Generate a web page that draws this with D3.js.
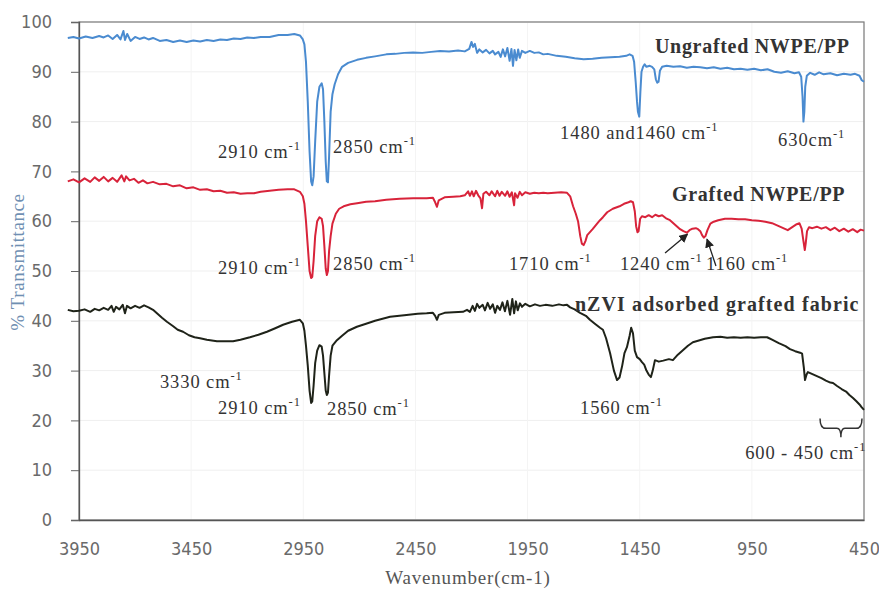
<!DOCTYPE html>
<html><head><meta charset="utf-8">
<script src="https://cdn.jsdelivr.net/npm/d3@7"></script>
<style>body{margin:0;background:#fff}svg{display:block}</style>
</head><body><svg id="c" width="879" height="592"></svg>
<script>
// ---- data ----
const xTicks = [3950, 3450, 2950, 2450, 1950, 1450, 950, 450];
const yTicks = [0, 10, 20, 30, 40, 50, 60, 70, 80, 90, 100];
const xTitle = "Wavenumber(cm-1)";
const yTitle = "% Transmittance";

const ungrafted = [[4000,96.8],[3975,97.0],[3950,96.7],[3920,97.1],[3890,96.8],[3860,97.2],[3840,96.9],[3820,97.3],[3800,96.6],[3780,97.4],[3765,96.5],[3752,98.2],[3745,96.4],[3735,97.6],[3720,96.2],[3700,97.0],[3680,96.6],[3660,96.9],[3640,96.5],[3620,96.8],[3590,96.2],[3560,96.4],[3530,96.0],[3500,96.3],[3470,96.0],[3440,96.3],[3410,96.1],[3380,96.4],[3350,96.2],[3320,96.5],[3290,96.4],[3260,96.7],[3230,96.6],[3200,96.9],[3170,96.8],[3140,97.0],[3100,97.0],[3060,97.4],[3020,97.4],[2990,97.6],[2965,97.3],[2952,96.5],[2945,95.5],[2938,92.0],[2930,84.0],[2922,74.0],[2915,68.0],[2910,67.2],[2904,69.0],[2897,76.0],[2888,84.0],[2878,87.0],[2868,87.7],[2862,86.5],[2856,80.0],[2850,72.0],[2845,68.0],[2840,67.8],[2835,73.0],[2828,82.0],[2820,85.5],[2810,87.5],[2795,89.5],[2777,91.0],[2750,91.8],[2710,92.4],[2670,92.8],[2630,93.1],[2580,93.5],[2540,93.6],[2500,93.8],[2460,93.9],[2420,93.8],[2380,94.0],[2340,94.2],[2300,94.1],[2260,94.3],[2230,94.1],[2210,94.6],[2200,96.0],[2193,95.0],[2185,95.6],[2175,93.8],[2165,94.5],[2150,93.9],[2135,94.4],[2120,93.7],[2105,94.2],[2095,93.5],[2080,94.0],[2070,93.0],[2060,94.5],[2050,93.1],[2040,94.8],[2030,92.2],[2022,94.6],[2015,91.2],[2008,94.4],[2000,92.3],[1992,94.5],[1985,92.8],[1975,94.2],[1960,93.8],[1940,94.2],[1920,93.8],[1900,93.9],[1880,93.5],[1860,93.6],[1820,93.2],[1780,93.0],[1740,92.7],[1700,92.5],[1660,92.6],[1620,92.8],[1580,92.9],[1540,93.0],[1510,93.2],[1495,93.5],[1482,93.2],[1475,92.0],[1468,88.0],[1462,84.0],[1458,82.0],[1452,81.0],[1447,86.0],[1442,90.0],[1435,91.0],[1428,91.5],[1420,91.0],[1405,91.2],[1395,91.0],[1385,90.5],[1378,88.5],[1372,87.8],[1366,88.0],[1360,90.2],[1350,91.0],[1330,91.2],[1300,91.0],[1270,91.1],[1240,90.8],[1210,91.0],[1180,90.9],[1150,90.7],[1120,90.9],[1090,90.6],[1060,90.8],[1030,90.5],[1000,90.6],[970,90.4],[940,90.6],[910,90.3],[880,90.5],[850,90.0],[820,89.8],[790,90.1],[760,89.7],[740,89.9],[730,89.0],[724,85.0],[720,80.0],[716,82.0],[712,87.0],[705,89.2],[690,89.8],[670,89.4],[650,89.9],[630,89.5],[600,89.7],[570,89.3],[540,89.6],[510,89.4],[490,89.6],[470,89.2],[460,88.3],[450,88.0]];

const grafted = [[4000,68.0],[3975,68.4],[3950,67.8],[3925,68.6],[3900,67.9],[3880,68.8],[3860,68.1],[3840,68.9],[3820,68.0],[3800,68.7],[3780,67.9],[3760,69.2],[3748,68.0],[3740,69.0],[3725,68.2],[3705,68.5],[3685,67.7],[3665,68.2],[3645,67.6],[3620,67.9],[3590,67.4],[3560,67.5],[3530,67.0],[3500,67.2],[3470,66.6],[3440,66.8],[3410,66.3],[3380,66.4],[3350,66.0],[3320,66.1],[3290,65.7],[3260,65.8],[3230,65.5],[3200,65.6],[3170,65.6],[3140,65.9],[3100,66.1],[3060,66.3],[3020,66.4],[2990,66.4],[2965,65.9],[2952,65.0],[2945,63.5],[2938,60.0],[2930,55.0],[2922,50.0],[2915,48.6],[2910,48.8],[2904,52.0],[2897,57.0],[2888,60.0],[2878,60.8],[2868,60.5],[2862,59.0],[2856,55.0],[2850,50.5],[2845,49.2],[2840,50.0],[2835,54.0],[2828,57.0],[2820,59.5],[2805,61.5],[2790,62.5],[2770,63.0],[2740,63.4],[2710,63.6],[2670,63.9],[2630,64.0],[2580,64.3],[2520,64.5],[2460,64.6],[2400,64.6],[2372,64.7],[2362,63.8],[2354,62.9],[2346,64.2],[2320,64.8],[2282,64.9],[2250,65.0],[2230,65.2],[2215,66.0],[2207,65.1],[2198,66.0],[2190,65.0],[2180,66.1],[2170,65.2],[2160,64.6],[2153,62.6],[2147,65.5],[2135,65.9],[2120,65.2],[2110,66.0],[2095,65.0],[2085,66.1],[2075,65.1],[2065,65.9],[2050,65.1],[2040,66.0],[2030,64.9],[2020,65.8],[2010,63.2],[2006,65.6],[1995,64.7],[1985,65.9],[1975,65.2],[1960,65.8],[1940,65.5],[1920,65.7],[1900,65.6],[1880,65.7],[1860,65.6],[1830,65.7],[1800,65.8],[1774,65.7],[1760,65.0],[1747,63.0],[1735,61.5],[1725,60.0],[1715,57.0],[1708,55.5],[1700,55.2],[1692,56.0],[1684,57.2],[1672,57.8],[1660,58.4],[1640,59.5],[1627,60.2],[1614,60.8],[1595,61.8],[1570,62.5],[1540,63.0],[1520,63.5],[1500,63.8],[1490,64.0],[1480,63.8],[1472,62.0],[1466,59.0],[1460,57.8],[1455,58.0],[1448,60.5],[1440,61.0],[1425,60.8],[1410,61.2],[1395,60.8],[1380,61.3],[1365,61.0],[1350,61.2],[1330,60.5],[1315,60.2],[1300,59.6],[1285,59.0],[1270,58.4],[1255,58.0],[1240,57.7],[1228,58.2],[1215,58.5],[1200,58.6],[1190,58.4],[1180,58.0],[1172,57.2],[1164,56.7],[1157,57.0],[1148,58.2],[1135,59.5],[1120,59.9],[1100,60.2],[1070,60.5],[1040,60.5],[1010,60.4],[980,60.4],[950,60.2],[920,60.1],[890,59.9],[860,59.6],[830,59.0],[800,58.4],[790,58.2],[770,58.8],[750,59.4],[738,59.6],[728,58.5],[720,56.0],[714,54.2],[710,55.5],[704,58.0],[695,58.8],[680,58.6],[660,58.9],[640,58.5],[620,58.8],[600,58.2],[580,58.7],[560,58.0],[540,58.5],[520,57.9],[500,58.4],[480,57.8],[465,58.3],[450,58.1]];

const nzvi = [[4000,42.2],[3975,41.9],[3950,42.0],[3925,42.3],[3900,41.8],[3880,42.4],[3860,42.1],[3840,42.6],[3820,42.2],[3805,43.0],[3795,41.8],[3785,42.8],[3770,42.3],[3755,43.2],[3745,41.5],[3736,43.0],[3720,42.5],[3700,43.0],[3680,42.6],[3660,43.1],[3640,42.7],[3620,42.2],[3600,41.4],[3580,40.6],[3558,39.8],[3530,38.9],[3510,38.2],[3486,37.8],[3460,37.1],[3435,36.7],[3410,36.5],[3380,36.2],[3350,36.0],[3335,35.9],[3300,35.9],[3263,35.9],[3230,36.2],[3188,36.7],[3150,37.2],[3112,37.8],[3075,38.5],[3040,39.2],[3000,39.8],[2965,40.2],[2952,39.5],[2945,38.0],[2938,35.0],[2930,31.0],[2922,26.0],[2915,23.5],[2910,23.8],[2904,27.0],[2897,31.5],[2888,34.0],[2878,35.1],[2868,34.8],[2862,33.0],[2856,29.5],[2850,26.0],[2845,25.1],[2840,25.6],[2835,29.0],[2828,33.0],[2820,35.0],[2800,36.1],[2777,37.0],[2750,38.0],[2711,38.8],[2670,39.4],[2630,40.0],[2563,40.8],[2500,41.1],[2440,41.4],[2400,41.5],[2372,41.6],[2362,41.0],[2354,40.2],[2346,41.2],[2320,41.6],[2280,41.7],[2238,41.8],[2220,42.2],[2207,41.8],[2195,43.0],[2185,42.0],[2175,43.4],[2165,42.6],[2150,43.2],[2140,42.1],[2128,43.6],[2117,42.4],[2105,43.3],[2095,41.6],[2085,43.0],[2073,42.2],[2062,43.7],[2051,41.9],[2040,44.0],[2028,41.2],[2018,44.4],[2010,41.5],[2002,43.9],[1994,42.1],[1984,43.5],[1975,42.8],[1960,43.4],[1940,42.9],[1917,43.3],[1895,43.0],[1870,43.2],[1840,43.0],[1810,43.3],[1790,43.1],[1774,43.2],[1760,42.7],[1740,42.3],[1716,41.6],[1690,41.0],[1672,40.2],[1650,39.4],[1627,38.6],[1614,38.2],[1600,36.5],[1582,33.5],[1565,30.0],[1551,28.1],[1540,28.6],[1528,31.0],[1518,33.5],[1507,34.7],[1495,37.0],[1488,38.6],[1480,37.5],[1472,34.0],[1462,32.7],[1450,32.3],[1440,31.7],[1430,31.2],[1420,30.0],[1410,29.2],[1400,28.7],[1392,30.0],[1382,32.1],[1365,31.8],[1345,32.0],[1320,32.3],[1302,32.1],[1280,33.2],[1260,34.0],[1235,35.0],[1213,35.7],[1190,36.0],[1160,36.4],[1123,36.7],[1090,36.8],[1060,36.6],[1030,36.7],[1000,36.6],[970,36.7],[940,36.6],[910,36.7],[882,36.7],[860,36.2],[830,35.5],[800,34.9],[780,34.3],[757,33.9],[735,33.6],[726,33.4],[718,30.5],[713,28.1],[706,29.2],[700,29.7],[680,29.3],[660,28.9],[640,28.5],[620,28.0],[600,27.6],[588,27.5],[570,26.9],[550,26.3],[530,25.8],[515,25.1],[499,24.5],[485,23.9],[470,23.2],[460,22.6],[450,22.1]];

const seriesNames = ["Ungrafted NWPE/PP", "Grafted NWPE/PP", "nZVI adsorbed grafted fabric"];
const seriesColors = ["#4a8bd0", "#d8233a", "#1f2319"];

// annotations: [wavenumber at text start, transmittance at baseline, main text, superscript]
const peakLabels = [
  [3330, 72.7, "2910 cm", "-1"], [2817, 73.7, "2850 cm", "-1"], [1805, 76.5, "1480 and1460 cm", "-1"], [833, 75.1, "630cm", "-1"],
  [3330, 49.4, "2910 cm", "-1"], [2817, 50.2, "2850 cm", "-1"], [2033, 50.2, "1710 cm", "-1"], [1538, 50.2, "1240 cm", "-1"], [1154, 50.2, "1160 cm", "-1"],
  [3589, 26.5, "3330 cm", "-1"], [3330, 21.3, "2910 cm", "-1"], [2844, 21.1, "2850 cm", "-1"], [1716, 21.3, "1560 cm", "-1"], [980, 12.3, "600 - 450 cm", "-1"]
];
const seriesLabelPos = [[1382, 93.8], [1306, 64.1], [1739, 42.0]];
const arrows = [[1337, 53.6, 1237, 57.4], [1110, 51.0, 1150, 56.4]];
const brace = [646, 553, 459, 20.4, 18.4, 16.6];

// ---- chart ----
const svg = d3.select("#c");
const x = d3.scaleLinear().domain([3950, 450]).range([79, 864]);
const y = d3.scaleLinear().domain([0, 100]).range([520, 22]);

// gridlines
svg.append("g").selectAll("line").data(yTicks).join("line")
  .attr("x1", x(3950)).attr("x2", x(450)).attr("y1", d => y(d)).attr("y2", d => y(d))
  .attr("stroke", "#efefef").attr("stroke-width", 1);
svg.append("g").selectAll("line").data(xTicks).join("line")
  .attr("x1", d => x(d)).attr("x2", d => x(d)).attr("y1", y(0)).attr("y2", y(100))
  .attr("stroke", "#f4f4f4").attr("stroke-width", 1);

// frame
svg.append("rect").attr("x", x(3950)).attr("y", y(100)).attr("width", x(450) - x(3950)).attr("height", y(0) - y(100))
  .attr("fill", "none").attr("stroke", "#7a7a7a").attr("stroke-width", 1.2);

// y axis
const yAxis = svg.append("g").attr("transform", `translate(${x(3950)},0)`)
  .call(d3.axisLeft(y).tickValues(yTicks).tickSize(8).tickPadding(19).tickFormat(d3.format("d")));
yAxis.select(".domain").attr("stroke", "#555").attr("stroke-width", 1.3);
yAxis.selectAll(".tick line").attr("stroke", "#666");
yAxis.selectAll("text").attr("font-family", "'Liberation Sans Narrow','DejaVu Sans Condensed',sans-serif")
  .attr("font-size", 18).attr("fill", "#6a6a6a");

// x axis
const xAxis = svg.append("g").attr("transform", `translate(0,${y(0)})`)
  .call(d3.axisBottom(x).tickValues(xTicks).tickSize(0).tickPadding(22).tickFormat(d3.format("d")));
xAxis.select(".domain").attr("stroke", "#555").attr("stroke-width", 1.3);
xAxis.selectAll("text").attr("font-family", "'Liberation Sans Narrow','DejaVu Sans Condensed',sans-serif")
  .attr("font-size", 18).attr("fill", "#6a6a6a");

// titles
svg.append("text").attr("x", 468).attr("y", 584).attr("text-anchor", "middle")
  .attr("font-family", "'Liberation Serif',serif").attr("font-size", 19).attr("letter-spacing", 0.8).attr("fill", "#555")
  .text(xTitle);
svg.append("text").attr("transform", "translate(24,262) rotate(-90)").attr("text-anchor", "middle")
  .attr("font-family", "'Liberation Serif',serif").attr("font-size", 19).attr("letter-spacing", 0.6).attr("fill", "#6f8fb2")
  .text(yTitle);

// lines
const line = d3.line().x(d => x(d[0])).y(d => y(d[1]));
[ungrafted, grafted, nzvi].forEach((s, i) => {
  svg.append("path").datum(s).attr("d", line).attr("fill", "none")
    .attr("stroke", seriesColors[i]).attr("stroke-width", 2).attr("stroke-linejoin", "round");
});

// series labels
seriesLabelPos.forEach((p, i) => {
  svg.append("text").attr("x", x(p[0])).attr("y", y(p[1]))
    .attr("font-family", "'Liberation Serif',serif").attr("font-weight", "bold").attr("font-size", 20)
    .attr("letter-spacing", i === 2 ? 1.1 : 0.7).attr("fill", "#333").text(seriesNames[i]);
});

// peak labels
peakLabels.forEach(p => {
  const t = svg.append("text").attr("x", x(p[0])).attr("y", y(p[1]))
    .attr("font-family", "'Liberation Serif',serif").attr("font-size", 18.5).attr("letter-spacing", 0.9).attr("fill", "#333");
  t.append("tspan").text(p[2]);
  t.append("tspan").attr("dy", -8).attr("font-size", 12.5).text(p[3]);
});

// arrows
svg.append("defs").append("marker").attr("id", "ah").attr("viewBox", "0 0 10 10")
  .attr("refX", 9).attr("refY", 5).attr("markerWidth", 7).attr("markerHeight", 7).attr("orient", "auto")
  .append("path").attr("d", "M0,0 L10,5 L0,10 z").attr("fill", "#222");
arrows.forEach(a => {
  svg.append("line").attr("x1", x(a[0])).attr("y1", y(a[1])).attr("x2", x(a[2])).attr("y2", y(a[3]))
    .attr("stroke", "#222").attr("stroke-width", 1.3).attr("marker-end", "url(#ah)");
});

// brace
const bx0 = x(brace[0]), bxm = x(brace[1]), bx1 = x(brace[2]);
const by0 = y(brace[3]), bym = y(brace[4]), by1 = y(brace[5]);
svg.append("path")
  .attr("d", `M${bx0},${by0} Q${bx0},${bym} ${bx0 + 6},${bym} L${bxm - 4},${bym} Q${bxm},${bym} ${bxm},${by1} Q${bxm},${bym} ${bxm + 4},${bym} L${bx1 - 6},${bym} Q${bx1},${bym} ${bx1},${by0}`)
  .attr("fill", "none").attr("stroke", "#333").attr("stroke-width", 1.5);
</script></body></html>
